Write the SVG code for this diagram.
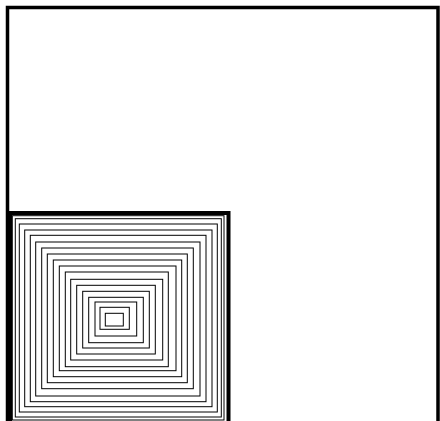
<svg xmlns="http://www.w3.org/2000/svg" width="440" height="421" viewBox="0 0 440 421">
<style>
.frame{fill:none;stroke:#000}
.sq{fill:none;stroke:#000;stroke-width:1}
</style>
<rect width="440" height="421" fill="#fff"/>
<g id="outer"><rect class="frame" stroke-width="3.5" x="7.5" y="7.5" width="430.5" height="430"/></g>
<g id="inner"><rect class="frame" stroke-width="4" x="10" y="213" width="218.5" height="218"/></g>
<g id="nested">
<rect class="sq" x="12.3" y="215.7" width="211.7" height="204.3"/>
<rect class="sq" x="15.3" y="218.7" width="206" height="198.3"/>
<rect class="sq" x="19.3" y="224" width="198" height="188"/>
<rect class="sq" x="24.7" y="230" width="187.3" height="176.7"/>
<rect class="sq" x="30.3" y="235.3" width="175.7" height="166.4"/>
<rect class="sq" x="35.7" y="242" width="164.3" height="154"/>
<rect class="sq" x="41.7" y="248" width="151.6" height="140.7"/>
<rect class="sq" x="47.3" y="254" width="140" height="128.7"/>
<rect class="sq" x="53.3" y="260" width="128.4" height="116.7"/>
<rect class="sq" x="59.3" y="266" width="116.7" height="104.7"/>
<rect class="sq" x="65.3" y="272" width="103" height="94.7"/>
<rect class="sq" x="70.7" y="279.3" width="92" height="80.7"/>
<rect class="sq" x="76.7" y="285.3" width="78.6" height="68.7"/>
<rect class="sq" x="82.7" y="291.3" width="66.6" height="56.7"/>
<rect class="sq" x="88.7" y="297.3" width="54.6" height="45.4"/>
<rect class="sq" x="95" y="302" width="41.7" height="34"/>
<rect class="sq" x="100" y="307.3" width="29.3" height="22"/>
<rect class="sq" x="105.3" y="313.3" width="18" height="12.7"/>
</g>
</svg>
